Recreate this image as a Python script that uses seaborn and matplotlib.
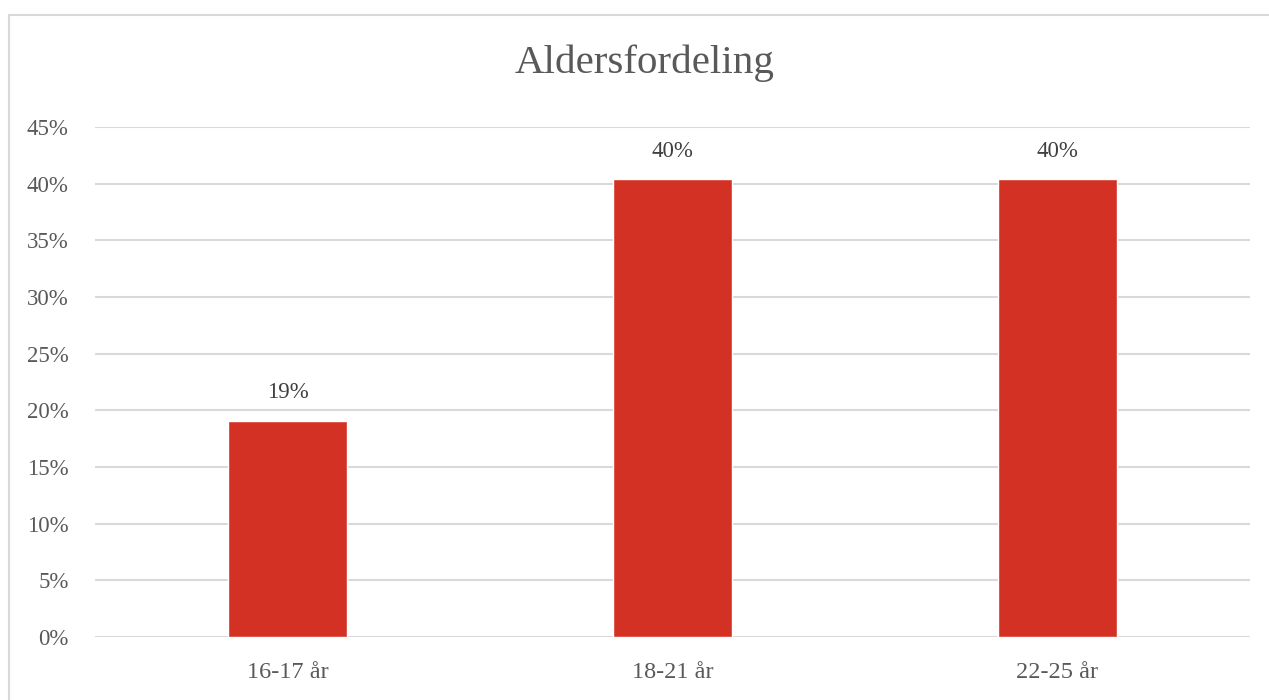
import matplotlib
matplotlib.use("Agg")
import matplotlib.pyplot as plt
import seaborn as sns
import pandas as pd
from matplotlib.ticker import PercentFormatter
from matplotlib.patches import Rectangle

# data
categories = ["16-17 år", "18-21 år", "22-25 år"]
shares = [0.191, 0.404, 0.404]
labels = ["19%", "40%", "40%"]

BAR_COLOR = "#D33124"
TEXT_COLOR = "#595959"
GRID_COLOR = "#D9D9D9"

sns.set_theme(style="white")
plt.rcParams["font.family"] = ["Liberation Serif", "DejaVu Serif"]

df = pd.DataFrame({"alder": categories, "andel": shares})

fig = plt.figure(figsize=(12.69, 7.0), dpi=100)
ax = fig.add_axes([0.0749, 0.09, 0.9101, 0.7286])

sns.barplot(data=df, x="alder", y="andel", color=BAR_COLOR, saturation=1,
            width=0.31, ax=ax, zorder=3)

ax.set_ylim(0, 0.45)
ax.set_yticks([i * 0.05 for i in range(10)])
ax.yaxis.set_major_formatter(PercentFormatter(1.0, decimals=0))
ax.set_xlim(-0.5, 2.5)
ax.grid(axis="y", color=GRID_COLOR, linewidth=1.5, zorder=0)
ax.set_axisbelow(True)
for s in ax.spines.values():
    s.set_visible(False)
ax.set_xlabel("")
ax.set_ylabel("")
ax.tick_params(axis="both", length=0, colors=TEXT_COLOR)
ax.tick_params(axis="y", pad=19, labelsize=16.5)
ax.tick_params(axis="x", pad=18, labelsize=17.5)

for i, (v, lab) in enumerate(zip(shares, labels)):
    ax.annotate(lab, (i, v), xytext=(0, 20), textcoords="offset points",
                ha="center", va="center", fontsize=16.5, color="#404040")

fig.text(0.508, 1 - 63 / 700, "Aldersfordeling", ha="center", va="center",
         fontsize=29.5, color=TEXT_COLOR)

# chart frame
fig.patches.append(Rectangle((9 / 1269, -0.05), 1.2, 1 - 15 / 700 + 0.05,
                             transform=fig.transFigure, fill=False,
                             edgecolor=GRID_COLOR, linewidth=1.5))

fig.savefig("out.png", dpi=100)
